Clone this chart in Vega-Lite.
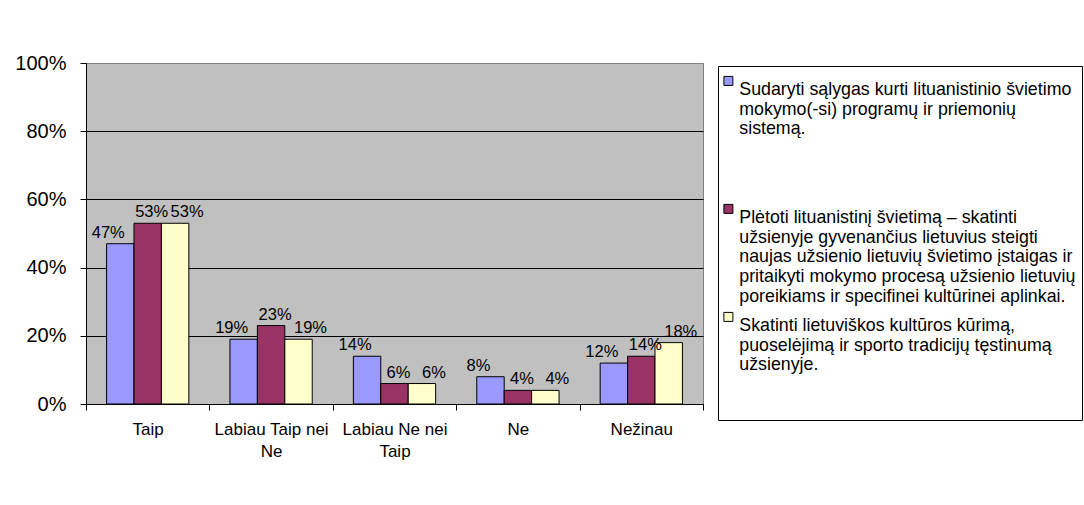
{
  "$schema": "https://vega.github.io/schema/vega-lite/v6.json",
  "width": 617,
  "height": 341,
  "autosize": {"type": "none"},
  "padding": {"left": 86, "top": 63, "right": 381, "bottom": 101},
  "background": "white",
  "config": {
    "font": "Liberation Sans",
    "view": {"fill": "#C0C0C0", "stroke": "#808080", "strokeWidth": 1}
  },
  "data": {
    "values": [
      {"answer": "Taip", "series": "Sudaryti sąlygas kurti lituanistinio švietimo mokymo(-si) programų ir priemonių sistemą.", "share": 0.47},
      {"answer": "Taip", "series": "Plėtoti lituanistinį švietimą – skatinti užsienyje gyvenančius lietuvius steigti naujas užsienio lietuvių švietimo įstaigas ir pritaikyti mokymo procesą užsienio lietuvių poreikiams ir specifinei kultūrinei aplinkai.", "share": 0.53},
      {"answer": "Taip", "series": "Skatinti lietuviškos kultūros kūrimą, puoselėjimą ir sporto tradicijų tęstinumą užsienyje.", "share": 0.53},
      {"answer": "Labiau Taip nei Ne", "series": "Sudaryti sąlygas kurti lituanistinio švietimo mokymo(-si) programų ir priemonių sistemą.", "share": 0.19},
      {"answer": "Labiau Taip nei Ne", "series": "Plėtoti lituanistinį švietimą – skatinti užsienyje gyvenančius lietuvius steigti naujas užsienio lietuvių švietimo įstaigas ir pritaikyti mokymo procesą užsienio lietuvių poreikiams ir specifinei kultūrinei aplinkai.", "share": 0.23},
      {"answer": "Labiau Taip nei Ne", "series": "Skatinti lietuviškos kultūros kūrimą, puoselėjimą ir sporto tradicijų tęstinumą užsienyje.", "share": 0.19},
      {"answer": "Labiau Ne nei Taip", "series": "Sudaryti sąlygas kurti lituanistinio švietimo mokymo(-si) programų ir priemonių sistemą.", "share": 0.14},
      {"answer": "Labiau Ne nei Taip", "series": "Plėtoti lituanistinį švietimą – skatinti užsienyje gyvenančius lietuvius steigti naujas užsienio lietuvių švietimo įstaigas ir pritaikyti mokymo procesą užsienio lietuvių poreikiams ir specifinei kultūrinei aplinkai.", "share": 0.06},
      {"answer": "Labiau Ne nei Taip", "series": "Skatinti lietuviškos kultūros kūrimą, puoselėjimą ir sporto tradicijų tęstinumą užsienyje.", "share": 0.06},
      {"answer": "Ne", "series": "Sudaryti sąlygas kurti lituanistinio švietimo mokymo(-si) programų ir priemonių sistemą.", "share": 0.08},
      {"answer": "Ne", "series": "Plėtoti lituanistinį švietimą – skatinti užsienyje gyvenančius lietuvius steigti naujas užsienio lietuvių švietimo įstaigas ir pritaikyti mokymo procesą užsienio lietuvių poreikiams ir specifinei kultūrinei aplinkai.", "share": 0.04},
      {"answer": "Ne", "series": "Skatinti lietuviškos kultūros kūrimą, puoselėjimą ir sporto tradicijų tęstinumą užsienyje.", "share": 0.04},
      {"answer": "Nežinau", "series": "Sudaryti sąlygas kurti lituanistinio švietimo mokymo(-si) programų ir priemonių sistemą.", "share": 0.12},
      {"answer": "Nežinau", "series": "Plėtoti lituanistinį švietimą – skatinti užsienyje gyvenančius lietuvius steigti naujas užsienio lietuvių švietimo įstaigas ir pritaikyti mokymo procesą užsienio lietuvių poreikiams ir specifinei kultūrinei aplinkai.", "share": 0.14},
      {"answer": "Nežinau", "series": "Skatinti lietuviškos kultūros kūrimą, puoselėjimą ir sporto tradicijų tęstinumą užsienyje.", "share": 0.18}
    ]
  },
  "encoding": {
    "x": {
      "field": "answer",
      "type": "nominal",
      "sort": ["Taip", "Labiau Taip nei Ne", "Labiau Ne nei Taip", "Ne", "Nežinau"],
      "scale": {"paddingInner": 0, "paddingOuter": 0},
      "axis": {
        "title": null,
        "tickBand": "extent",
        "labelAngle": 0,
        "labelFontSize": 17,
        "labelColor": "black",
        "labelLimit": 200,
        "labelPadding": 11,
        "labelLineHeight": 22,
        "labelExpr": "datum.label == 'Labiau Taip nei Ne' ? ['Labiau Taip nei', 'Ne'] : datum.label == 'Labiau Ne nei Taip' ? ['Labiau Ne nei', 'Taip'] : datum.label",
        "tickColor": "black",
        "tickSize": 6,
        "domainColor": "black"
      }
    },
    "xOffset": {
      "field": "series",
      "type": "nominal",
      "sort": [
        "Sudaryti sąlygas kurti lituanistinio švietimo mokymo(-si) programų ir priemonių sistemą.",
        "Plėtoti lituanistinį švietimą – skatinti užsienyje gyvenančius lietuvius steigti naujas užsienio lietuvių švietimo įstaigas ir pritaikyti mokymo procesą užsienio lietuvių poreikiams ir specifinei kultūrinei aplinkai.",
        "Skatinti lietuviškos kultūros kūrimą, puoselėjimą ir sporto tradicijų tęstinumą užsienyje."
      ],
      "scale": {"paddingInner": 0, "paddingOuter": 0.75}
    },
    "y": {
      "field": "share",
      "type": "quantitative",
      "scale": {"domain": [0, 1]},
      "axis": {
        "title": null,
        "format": ".0%",
        "values": [0, 0.2, 0.4, 0.6, 0.8, 1],
        "labelFontSize": 20,
        "labelColor": "black",
        "labelPadding": 14,
        "tickColor": "black",
        "tickSize": 6,
        "domainColor": "black",
        "gridOpacity": 1,
        "gridColor": {"condition": {"test": "datum.value >= 1", "value": "#808080"}, "value": "black"}
      }
    }
  },
  "layer": [
    {
      "mark": {"type": "bar", "stroke": "black", "strokeWidth": 1},
      "encoding": {
        "color": {
          "field": "series",
          "type": "nominal",
          "sort": [
            "Sudaryti sąlygas kurti lituanistinio švietimo mokymo(-si) programų ir priemonių sistemą.",
            "Plėtoti lituanistinį švietimą – skatinti užsienyje gyvenančius lietuvius steigti naujas užsienio lietuvių švietimo įstaigas ir pritaikyti mokymo procesą užsienio lietuvių poreikiams ir specifinei kultūrinei aplinkai.",
            "Skatinti lietuviškos kultūros kūrimą, puoselėjimą ir sporto tradicijų tęstinumą užsienyje."
          ],
          "scale": {"range": ["#9999FF", "#993366", "#FFFFCC"]},
          "legend": {
            "title": null,
            "orient": "none",
            "legendX": 632,
            "legendY": 3,
            "strokeColor": "black",
            "fillColor": "white",
            "padding": 6,
            "symbolType": "square",
            "symbolSize": 81,
            "symbolOffset": -4.5,
            "symbolStrokeColor": "black",
            "symbolStrokeWidth": 1,
            "labelFontSize": 17.8,
            "labelColor": "black",
            "labelLimit": 400,
            "labelOffset": 2,
            "labelBaseline": "top",
            "labelLineHeight": 20.5,
            "rowPadding": 2,
            "labelExpr": "substring(datum.label, 0, 3) == 'Sud' ? ['Sudaryti sąlygas kurti lituanistinio švietimo', 'mokymo(-si) programų ir priemonių', 'sistemą.', ' ', ' ', ' '] : substring(datum.label, 0, 3) == 'Plė' ? ['Plėtoti lituanistinį švietimą – skatinti', 'užsienyje gyvenančius lietuvius steigti', 'naujas užsienio lietuvių švietimo įstaigas ir', 'pritaikyti mokymo procesą užsienio lietuvių', 'poreikiams ir specifinei kultūrinei aplinkai.'] : ['Skatinti lietuviškos kultūros kūrimą,', 'puoselėjimą ir sporto tradicijų tęstinumą', 'užsienyje.', ' ', ' ']"
          }
        }
      }
    },
    {
      "mark": {
        "type": "text",
        "baseline": "alphabetic",
        "fontSize": 16.5,
        "color": "black",
        "dy": -6,
        "dx": {"expr": "substring(datum.series, 0, 3) == 'Sud' ? -12 : substring(datum.series, 0, 3) == 'Plė' ? 4 : 12"}
      },
      "encoding": {
        "text": {"field": "share", "type": "quantitative", "format": ".0%"}
      }
    }
  ]
}
